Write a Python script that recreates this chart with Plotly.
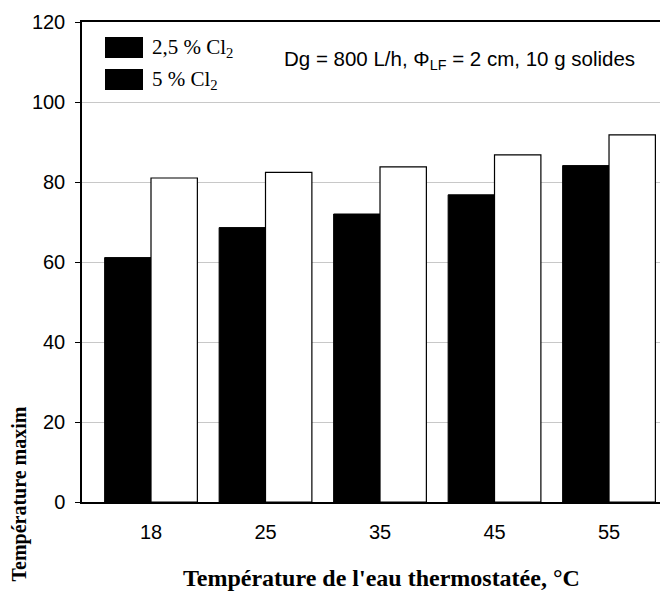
import plotly.graph_objects as go

categories = ["18", "25", "35", "45", "55"]
cl2_25 = [61.1, 68.6, 72.0, 76.8, 84.1]
cl2_5 = [81.0, 82.4, 83.8, 86.8, 91.8]
legend_labels = ["2,5 % Cl<sub>2</sub>", "5 % Cl<sub>2</sub>"]
y_ticks = [0, 20, 40, 60, 80, 100, 120]

W, H = 668, 595
OFF = 8  # page body margin
L, R, T, B = 74, 0, 14, 101
pw, ph = W - L - R, H - T - B

def px_x(sx):
    return (sx - OFF - L) / pw

def px_y(sy):
    return 1 - (sy - OFF - T) / ph

fig = go.Figure()
fig.add_trace(go.Bar(x=list(range(len(categories))), y=cl2_25, name=legend_labels[0],
                     marker=dict(color="black", line=dict(color="black", width=1))))
fig.add_trace(go.Bar(x=list(range(len(categories))), y=cl2_5, name=legend_labels[1],
                     marker=dict(color="white", line=dict(color="black", width=1.2))))

serif = "Liberation Serif, Times New Roman, serif"
sans = "Liberation Sans, Arial, sans-serif"

shapes = []
annotations = []
# legend drawn manually (both swatches black as in the reference)
for i, lab in enumerate(legend_labels):
    y0 = 37 + i * 32
    shapes.append(dict(type="rect", xref="paper", yref="paper",
                       x0=px_x(105), x1=px_x(143), y0=px_y(y0 + 21), y1=px_y(y0),
                       fillcolor="black", line=dict(width=0)))
    annotations.append(dict(text=lab, xref="paper", yref="paper", x=px_x(150), y=px_y(y0 + 11),
                            xanchor="left", yanchor="middle", showarrow=False,
                            font=dict(family=serif, size=21, color="black")))

annotations.append(dict(text="Dg = 800 L/h, Φ<sub>LF</sub> = 2 cm, 10 g solides", xref="paper", yref="paper",
                        x=px_x(282), y=px_y(60), xanchor="left", yanchor="middle", showarrow=False,
                        font=dict(family=sans, size=20.5, color="black")))
annotations.append(dict(text="<b>Température de l'eau thermostatée, °C</b>", xref="paper", yref="paper",
                        x=px_x(381), y=px_y(578), xanchor="center", yanchor="middle", showarrow=False,
                        font=dict(family=serif, size=24, color="black")))
annotations.append(dict(text="<b>Température maxim</b>", xref="paper", yref="paper",
                        x=px_x(19), y=px_y(584), xanchor="center", yanchor="bottom", textangle=-90,
                        showarrow=False, font=dict(family=serif, size=20, color="black")))

fig.update_layout(
    width=W, height=H,
    margin=dict(l=L, r=R, t=T, b=B),
    paper_bgcolor="white", plot_bgcolor="white",
    barmode="group", bargap=0.19, bargroupgap=0,
    showlegend=False,
    shapes=shapes, annotations=annotations,
    xaxis=dict(range=[-0.6026, 4.585], tickvals=list(range(len(categories))), ticktext=categories,
               showline=True, linecolor="black", linewidth=1.5, mirror=True, ticks="",
               showgrid=False, zeroline=False, ticklabelstandoff=11,
               tickfont=dict(family=sans, size=20, color="black")),
    yaxis=dict(range=[0, 120], tickvals=y_ticks, showline=True, linecolor="black", linewidth=1.5,
               ticks="outside", ticklen=5, tickcolor="black", showgrid=True, gridcolor="#c8c8c8",
               gridwidth=1, zeroline=False, ticklabelstandoff=6,
               tickfont=dict(family=sans, size=20, color="black")),
)

fig.write_html("out.html")
